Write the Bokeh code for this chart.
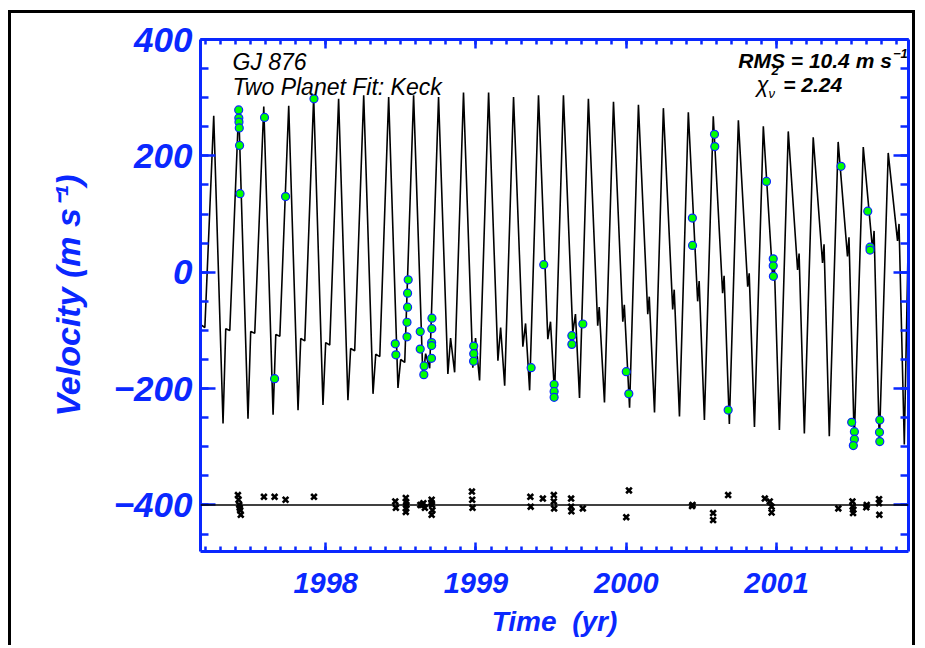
from bokeh.plotting import figure
from bokeh.models import LinearAxis, SingleIntervalTicker, Range1d, Span, Label, ColumnDataSource
from bokeh.embed import file_html
from bokeh.resources import INLINE

# ---------------- data ----------------
# model curve, per orbital cycle of planet b: peak, first dip, bump, second dip
peak_t = [1997.255, 1997.421, 1997.588, 1997.754, 1997.920, 1998.086, 1998.253, 1998.419,
          1998.585, 1998.751, 1998.917, 1999.084, 1999.250, 1999.416, 1999.582, 1999.748,
          1999.915, 2000.081, 2000.247, 2000.413, 2000.579, 2000.746, 2000.912, 2001.078,
          2001.244, 2001.410, 2001.577, 2001.743]
peak_v = [269, 281, 285, 286, 301, 298, 304, 301, 304, 301, 309, 309, 301, 304, 304, 298,
          293, 288, 282, 275, 268, 261, 251, 242, 232, 224, 215, 205]
dip1_t = [1997.317, 1997.483, 1997.650, 1997.816, 1997.982, 1998.148, 1998.315, 1998.481,
          1998.647, 1998.813, 1998.979, 1999.146, 1999.312, 1999.478, 1999.644, 1999.810,
          1999.977, 2000.143, 2000.309, 2000.475, 2000.641, 2000.808, 2000.974, 2001.140,
          2001.306, 2001.472, 2001.639, 2001.805]
dip1_v = [-260, -252, -245, -237, -228, -220, -209, -199, -182, -175, -164, -152, -128, -115,
          -104, -92, -85, -72, -64, -50, -36, -25, -8, 4, 16, 27, 38, 54]
bump_t = [1997.335, 1997.501, 1997.668, 1997.834, 1998.000, 1998.166, 1998.333, 1998.499,
          1998.665, 1998.831, 1998.997, 1999.164, 1999.330, 1999.496, 1999.662, 1999.820,
          1999.987, 2000.153, 2000.319, 2000.485, 2000.651, 2000.818, 2000.984, 2001.150,
          2001.316, 2001.482, 2001.649, 2001.815]
bump_v = [-97, -102, -107, -114, -121, -131, -141, -150, -140, -113, -113, -95, -88, -85,
          -72, -60, -56, -42, -30, -15, -6, -2, 24, 32, 48, 60, 71, 83]
dip2_t = [1997.362, 1997.528, 1997.695, 1997.861, 1998.027, 1998.193, 1998.360, 1998.526,
          1998.692, 1998.858, 1999.024, 1999.191, 1999.357, 1999.523, 1999.689, 1999.855,
          2000.022, 2000.188, 2000.354, 2000.520, 2000.686, 2000.853, 2001.019, 2001.185,
          2001.351, 2001.517, 2001.684, 2001.850]
dip2_v = [-100, -105, -110, -118, -125, -135, -145, -155, -165, -172, -186, -195, -203, -210,
          -216, -224, -233, -241, -248, -254, -261, -266, -271, -277, -282, -289, -294, -296]
curve_start_t = [1997.168, 1997.196]
curve_start_v = [-90, -95]
curve_end_t = [2001.885]
curve_end_v = [175]

# Keck velocities
obs_t = [1997.421, 1997.422, 1997.423, 1997.425, 1997.427, 1997.430, 1997.593, 1997.660,
         1997.733, 1997.922, 1998.463, 1998.467, 1998.549, 1998.545, 1998.545, 1998.541,
         1998.541, 1998.629, 1998.629, 1998.655, 1998.653, 1998.707, 1998.706, 1998.705,
         1998.705, 1998.704, 1998.985, 1998.985, 1998.984, 1999.367, 1999.451, 1999.520,
         1999.520, 1999.520, 1999.638, 1999.638, 1999.711, 2000.000, 2000.017, 2000.440,
         2000.441, 2000.587, 2000.589, 2000.678, 2000.933, 2000.978, 2000.978, 2000.979,
         2001.429, 2001.500, 2001.518, 2001.518, 2001.511, 2001.607, 2001.622, 2001.622,
         2001.687, 2001.685, 2001.687]
obs_v = [279, 265, 258, 248, 218, 135, 266, -183, 130, 298, -123, -142, -13, -36, -60, -86,
         -111, -102, -132, -161, -176, -79, -97, -121, -126, -148, -127, -140, -153, -164, 13,
         -193, -205, -215, -109, -124, -89, -171, -209, 93, 46, 237, 216, -237, 156, 23, 11,
         -7, 182, -258, -274, -287, -298, 105, 43, 38, -254, -275, -291]

# residuals (observed - model), drawn about an offset of -400
resid_offset = -400
res_t = [1997.416, 1997.420, 1997.425, 1997.428, 1997.431, 1997.435, 1997.589, 1997.660,
         1997.733, 1997.922, 1998.463, 1998.467, 1998.533, 1998.535, 1998.537, 1998.535,
         1998.533, 1998.630, 1998.640, 1998.650, 1998.660, 1998.705, 1998.705, 1998.710,
         1998.707, 1998.703, 1998.973, 1998.975, 1998.977, 1999.362, 1999.364, 1999.445,
         1999.518, 1999.518, 1999.520, 1999.633, 1999.633, 1999.635, 1999.711, 2000.018,
         2000.000, 2000.438, 2000.441, 2000.578, 2000.578, 2000.678, 2000.922, 2000.955,
         2000.967, 2000.967, 2001.411, 2001.505, 2001.507, 2001.509, 2001.511, 2001.600,
         2001.597, 2001.682, 2001.684, 2001.682]
res_v = [17, 9, 0, -5, -9, -17, 14, 14, 9, 14, 6, -5, 12, 5, 0, -6, -12, 0, 0, 3, -5, 9,
         -17, -9, 0, 4, 23, 9, -5, 14, -3, 11, 17, 6, -6, 11, -3, -11, -6, 25, -21, -2, 0,
         -14, -26, 17, 11, 6, -3, -13, -6, 6, -3, -14, -8, 0, -4, 10, -17, 3]

x_ticks_year = 1
y_ticks_step = 200
x_limits = (1997.167, 2001.878)
y_limits = (-480, 400)

# ---------------- build ----------------
BLUE = "#0a28ff"
FONT = "Liberation Sans"

curve_t = list(curve_start_t)
curve_v = list(curve_start_v)
for i in range(len(peak_t)):
    curve_t += [peak_t[i], dip1_t[i], bump_t[i], dip2_t[i]]
    curve_v += [peak_v[i], dip1_v[i], bump_v[i], dip2_v[i]]
curve_t += curve_end_t
curve_v += curve_end_v

p = figure(width=907, height=635, output_backend="svg", toolbar_location=None,
           x_range=Range1d(*x_limits), y_range=Range1d(*y_limits))
p.styles = {"margin-left": "8px", "margin-top": "10px",
            "border-top": "3px solid black", "border-left": "3px solid black",
            "border-right": "3px solid black"}
p.min_border_left = 189
p.min_border_top = 26
p.min_border_bottom = 97
p.min_border_right = 10
p.outline_line_color = None
p.xgrid.visible = False
p.ygrid.visible = False
p.background_fill_color = "white"
p.border_fill_color = "white"

p.add_layout(LinearAxis(), "above")
p.add_layout(LinearAxis(), "right")


def style(ax, major_in, minor_in, interval, minor_n):
    ax.ticker = SingleIntervalTicker(interval=interval, num_minor_ticks=minor_n)
    ax.axis_line_color = BLUE
    ax.axis_line_width = 3
    ax.major_tick_line_color = BLUE
    ax.minor_tick_line_color = BLUE
    ax.major_tick_line_width = 2.5
    ax.minor_tick_line_width = 2.5
    ax.major_tick_in = major_in
    ax.major_tick_out = 0
    ax.minor_tick_in = minor_in
    ax.minor_tick_out = 0
    ax.major_label_text_color = BLUE
    ax.major_label_text_font = FONT
    ax.major_label_text_font_style = "bold italic"


for ax in p.below + p.above:
    style(ax, 9, 5, x_ticks_year, 10)
for ax in p.left + p.right:
    style(ax, 15, 8, y_ticks_step, 4)

for ax in p.above + p.right:
    ax.major_label_text_font_size = "1px"
    ax.major_label_text_color = None
    ax.major_label_standoff = 0

xa = p.below[0]
xa.major_label_text_font_size = "29px"
xa.major_label_standoff = 21
xa.axis_label = "Time\u00a0 (yr)"
xa.axis_label_text_font = FONT
xa.axis_label_text_font_style = "bold italic"
xa.axis_label_text_font_size = "28px"
xa.axis_label_text_color = BLUE
xa.axis_label_standoff = 10

ya = p.left[0]
ya.major_label_text_font_size = "35px"
ya.major_label_standoff = 8
ya.major_label_overrides = {-200: "\u2212200", -400: "\u2212400"}
ya.axis_label = "Velocity (m s\u207b\u00b9)"
ya.axis_label_text_font = FONT
ya.axis_label_text_font_style = "bold italic"
ya.axis_label_text_font_size = "34px"
ya.axis_label_text_color = BLUE
ya.axis_label_standoff = 24

# model curve
p.line(curve_t, curve_v, line_color="black", line_width=1.6)

# residual baseline and residuals
p.add_layout(Span(location=resid_offset, dimension="width", line_color="black", line_width=1.6))
res_src = ColumnDataSource(dict(t=res_t, v=[resid_offset + r for r in res_v]))
p.scatter("t", "v", source=res_src, marker="x", size=8, line_color="black", line_width=2.6)

# observations
p.scatter(obs_t, obs_v, marker="circle", size=8, fill_color="#00ff00",
          line_color=BLUE, line_width=1.2)

# annotations
def lab(x, y, text, size, style="italic", align="left"):
    p.add_layout(Label(x=x, y=y, text=text, text_font=FONT, text_font_size=size,
                       text_font_style=style, text_color="black", text_align=align,
                       text_baseline="alphabetic"))

lab(1997.38, 362, "GJ 876", "23px")
lab(1997.38, 319, "Two Planet Fit: Keck", "23px")
lab(2001.767, 364, "RMS = 10.4 m s", "21px", "bold italic", "right")
lab(2001.775, 376, "\u22121", "13px", "bold italic")
lab(2000.867, 323, "\u03c7", "22px", "italic")
lab(2000.967, 347, "2", "13px", "bold italic")
lab(2000.947, 308, "\u03bd", "13px", "italic")
lab(2001.044, 323, "= 2.24", "21px", "bold italic")

open("out.html", "w").write(file_html(p, INLINE))
